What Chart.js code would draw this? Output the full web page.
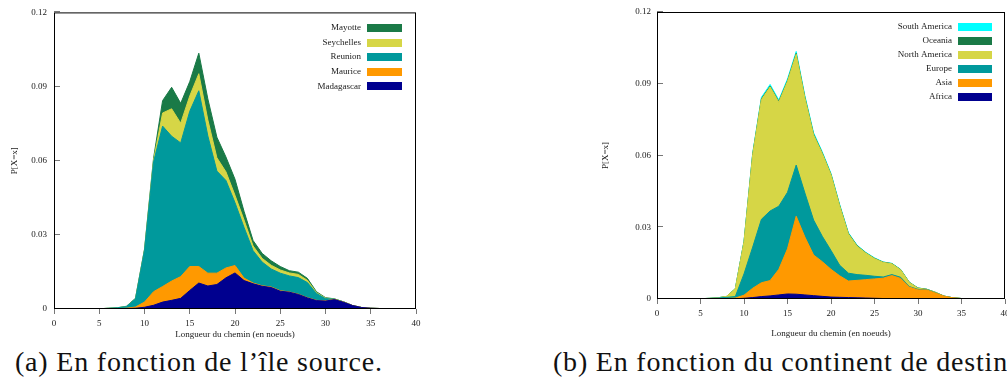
<!DOCTYPE html>
<html>
<head>
<meta charset="utf-8">
<script src="https://cdn.jsdelivr.net/npm/chart.js@4.4.1/dist/chart.umd.min.js"></script>
<style>
  html, body { margin: 0; padding: 0; background: #fff; }
  body { width: 1007px; height: 387px; overflow: hidden; position: relative; }
  .box { position: absolute; top: 0; }
  .cap { position: absolute; top: 347.5px; font-family: 'Liberation Serif', serif; font-size: 28px; line-height: 28px; letter-spacing: 0.8px; white-space: nowrap; color: #111; }
</style>
</head>
<body>
<div class="box" style="left:0px;width:430px;height:345px"><canvas id="c1" width="430" height="345"></canvas></div>
<div class="box" style="left:590px;width:425px;height:345px"><canvas id="c2" width="425" height="345"></canvas></div>
<div class="cap" style="left:15px">(a) En fonction de l’île source.</div>
<div class="cap" style="left:553px">(b) En fonction du continent de destination.</div>
<script>
// ---- data ----
const lengths = [0,1,2,3,4,5,6,7,8,9,10,11,12,13,14,15,16,17,18,19,20,21,22,23,24,25,26,27,28,29,30,31,32,33,34,35,36,37,38,39,40];
const xTickValues = [0,5,10,15,20,25,30,35,40];
const xTickLabels = ['0','5','10','15','20','25','30','35','40'];
const yTickValues = [0,0.03,0.06,0.09,0.12];
const yTickLabels = ['0','0.03','0.06','0.09','0.12'];
const xTitle = 'Longueur du chemin (en noeuds)';
const yTitle = 'P[X=x]';

// (a) by source island
const islandNames = ['Madagascar','Maurice','Reunion','Seychelles','Mayotte'];
const madagascar = [0,0,0,0,0,0.0001,0.0001,0.0001,0.0002,0.0003,0.0007,0.0015,0.0028,0.0035,0.0043,0.0075,0.0105,0.0093,0.0099,0.0126,0.0146,0.0115,0.0102,0.0092,0.0087,0.0072,0.0068,0.0059,0.0045,0.0034,0.0032,0.0038,0.0027,0.0014,0.0006,0.0003,0.0002,0.0001,0.0001,0.0001,0.0001];
const maurice    = [0,0,0,0,0,0,0,0,0.0001,0.0005,0.0021,0.0055,0.0063,0.0078,0.0088,0.0097,0.0067,0.0052,0.0046,0.004,0.003,0.001,0.0003,0.0002,0.0002,0.0002,0.0001,0.0001,0.0001,0.0001,0.0001,0.0001,0.0001,0,0,0,0,0,0,0,0];
const reunion    = [0,0,0,0,0,0,0.0002,0.0004,0.0007,0.0032,0.021,0.0525,0.0649,0.0586,0.0541,0.0628,0.0711,0.0555,0.0413,0.0354,0.0254,0.0205,0.0131,0.0096,0.0073,0.0071,0.0065,0.0067,0.0061,0.0028,0.0009,0.0001,0.0001,0,0,0,0,0,0,0,0];
const seychelles = [0,0,0,0,0,0,0,0,0,0,0,0.0007,0.0053,0.0111,0.008,0.0062,0.0069,0.0065,0.0054,0.0035,0.003,0.003,0.0019,0.0015,0.0015,0.0013,0.0012,0.0013,0.0009,0.0003,0.0002,0,0,0,0,0,0,0,0,0,0];
const mayotte    = [0,0,0,0,0,0,0,0,0.0001,0.0003,0.0004,0.0008,0.005,0.0087,0.008,0.0058,0.0083,0.0085,0.0083,0.006,0.0065,0.0035,0.0022,0.002,0.0018,0.0014,0.0009,0.0009,0.0008,0.0004,0.0002,0.0001,0,0,0,0,0,0,0,0,0];

// (b) by destination continent
const continentNames = ['Africa','Asia','Europe','North America','Oceania','South America'];
const africa       = [0,0,0,0,0,0,0,0,0.0001,0.0001,0.0003,0.0006,0.001,0.0013,0.0017,0.0021,0.002,0.0017,0.0014,0.0011,0.0008,0.0007,0.0006,0.0005,0.0004,0.0003,0.0002,0.0002,0.0001,0.0001,0.0001,0,0,0,0,0,0,0,0,0,0];
const asia         = [0,0,0,0,0,0,0,0,0.0001,0.0003,0.0013,0.0039,0.0058,0.0064,0.0107,0.0189,0.0326,0.0242,0.017,0.0145,0.0116,0.009,0.0069,0.0073,0.0077,0.0081,0.0085,0.0096,0.0085,0.0049,0.0037,0.0038,0.0025,0.0012,0.0005,0.0002,0.0001,0,0,0,0];
const europe       = [0,0,0,0,0,0.0001,0.0002,0.0004,0.0005,0.0006,0.0089,0.0172,0.0265,0.0291,0.0264,0.0236,0.0214,0.0184,0.0146,0.0106,0.0079,0.0044,0.0033,0.0024,0.0018,0.0011,0.0005,0.0004,0.0005,0.0002,0.0002,0.0001,0.0001,0,0,0,0,0,0,0,0];
const northAmerica = [0,0,0,0,0,0,0.0001,0.0001,0.0004,0.0033,0.0134,0.0387,0.0501,0.0519,0.0435,0.0464,0.0463,0.0397,0.0356,0.0346,0.0316,0.0248,0.0164,0.0119,0.0093,0.0074,0.0061,0.0045,0.0031,0.0017,0.0005,0.0001,0.0002,0,0,0,0,0,0,0,0];
const oceania      = [0,0,0,0,0,0,0,0,0,0,0.0001,0.0002,0.0003,0.0003,0.0003,0.0003,0.0004,0.0003,0.0003,0.0002,0.0002,0.0002,0.0002,0.0002,0.0001,0.0001,0.0001,0.0001,0.0001,0.0001,0.0001,0.0001,0,0,0,0,0,0,0,0,0];
const southAmerica = [0,0,0,0,0,0,0,0,0,0,0.0002,0.0004,0.0006,0.0007,0.0006,0.0007,0.0008,0.0007,0.0006,0.0005,0.0004,0.0004,0.0003,0.0002,0.0002,0.0002,0.0001,0.0001,0.0001,0,0,0,0,0,0,0,0,0,0,0,0];

// ---- styles ----
const NAVY = '#00008f', ORANGE = '#ff9900', TEAL = '#00999c', YELLOW = '#d6d646', GREEN = '#1a7a47', CYAN = '#00ffff';
const FONT = 'Liberation Serif';
const TEXT = '#1a1a1a';

function makeChart(canvas, names, values, colors, geo) {
  const datasets = names.map((name, k) => ({
    label: name,
    data: lengths.map((x, i) => ({ x: x, y: values[k][i] })),
    backgroundColor: colors[k],
    borderColor: colors[k],
    borderWidth: 1,
    pointRadius: 0,
    pointHoverRadius: 0,
    tension: 0,
    fill: 'origin'
  }));

  const framePlugin = {
    id: 'frame',
    afterDatasetsDraw(chart) {
      const { ctx, chartArea: a, scales } = chart;
      ctx.save();
      // inner y ticks
      ctx.strokeStyle = '#777';
      ctx.lineWidth = 1;
      ctx.beginPath();
      yTickValues.forEach(v => {
        const py = Math.round(scales.y.getPixelForValue(v)) - 0.5;
        ctx.moveTo(a.left, py); ctx.lineTo(a.left + 6, py);
      });
      ctx.stroke();
      // frame
      ctx.strokeStyle = '#000';
      ctx.lineWidth = 1;
      ctx.strokeRect(a.left + 0.5, a.top + 0.5, a.right - a.left - 1, a.bottom - a.top - 1);
      // legend (top entry = last dataset)
      ctx.font = '9px "' + FONT + '"';
      ctx.textAlign = 'right';
      ctx.textBaseline = 'middle';
      const n = chart.data.datasets.length;
      for (let j = 0; j < n; j++) {
        const ds = chart.data.datasets[n - 1 - j];
        const cy = a.top + geo.legY0 + j * geo.legDy;
        ctx.fillStyle = TEXT;
        ctx.fillText(ds.label, a.right - geo.legText, cy);
        ctx.fillStyle = ds.backgroundColor;
        ctx.fillRect(a.right - geo.legBox, Math.round(cy - 4), geo.legBoxW, 8);
      }
      ctx.restore();
    }
  };

  return new Chart(canvas, {
    type: 'line',
    data: { datasets },
    plugins: [framePlugin],
    options: {
      responsive: false,
      animation: false,
      events: [],
      layout: { padding: { left: 0, top: geo.top, right: geo.right, bottom: 0 } },
      plugins: { legend: { display: false }, tooltip: { enabled: false } },
      scales: {
        x: {
          type: 'linear', min: 0, max: 40,
          afterBuildTicks: s => { s.ticks = xTickValues.map(v => ({ value: v })); },
          afterFit: s => { s.height = geo.xH; },
          ticks: { callback: (v, i) => xTickLabels[i], font: { family: FONT, size: 9 }, color: TEXT, padding: 4, maxRotation: 0, autoSkip: false },
          grid: { drawOnChartArea: false, drawTicks: true, tickLength: 5, color: '#777' },
          border: { display: false },
          title: { display: true, text: xTitle, font: { family: FONT, size: 9 }, color: TEXT, padding: { top: 0, bottom: geo.xTitlePad } }
        },
        y: {
          stacked: true, min: 0, max: 0.12,
          afterBuildTicks: s => { s.ticks = yTickValues.map(v => ({ value: v })); },
          afterFit: s => { s.width = geo.yW; },
          ticks: { callback: (v, i) => yTickLabels[i], font: { family: FONT, size: 9 }, color: TEXT, padding: geo.yTickPad },
          grid: { drawOnChartArea: false, drawTicks: false },
          border: { display: false },
          title: { display: true, text: yTitle, font: { family: FONT, size: 9 }, color: TEXT, padding: { top: geo.yTitlePad, bottom: 0 } }
        }
      }
    }
  });
}

makeChart(document.getElementById('c1'), islandNames,
  [madagascar, maurice, reunion, seychelles, mayotte],
  [NAVY, ORANGE, TEAL, YELLOW, GREEN],
  { top: 10, right: 14, xH: 36, yW: 54, xTitlePad: 4.6, yTitlePad: 9.6, yTickPad: 7,
    legY0: 15.5, legDy: 14.6, legText: 55, legBox: 49, legBoxW: 35 });

makeChart(document.getElementById('c2'), continentNames,
  [africa, asia, europe, northAmerica, oceania, southAmerica],
  [NAVY, ORANGE, TEAL, YELLOW, GREEN, CYAN],
  { top: 12, right: 10, xH: 46, yW: 67, xTitlePad: 6.3, yTitlePad: 10.3, yTickPad: 6,
    legY0: 14.5, legDy: 14, legText: 53, legBox: 47, legBoxW: 34 });
</script>
</body>
</html>
